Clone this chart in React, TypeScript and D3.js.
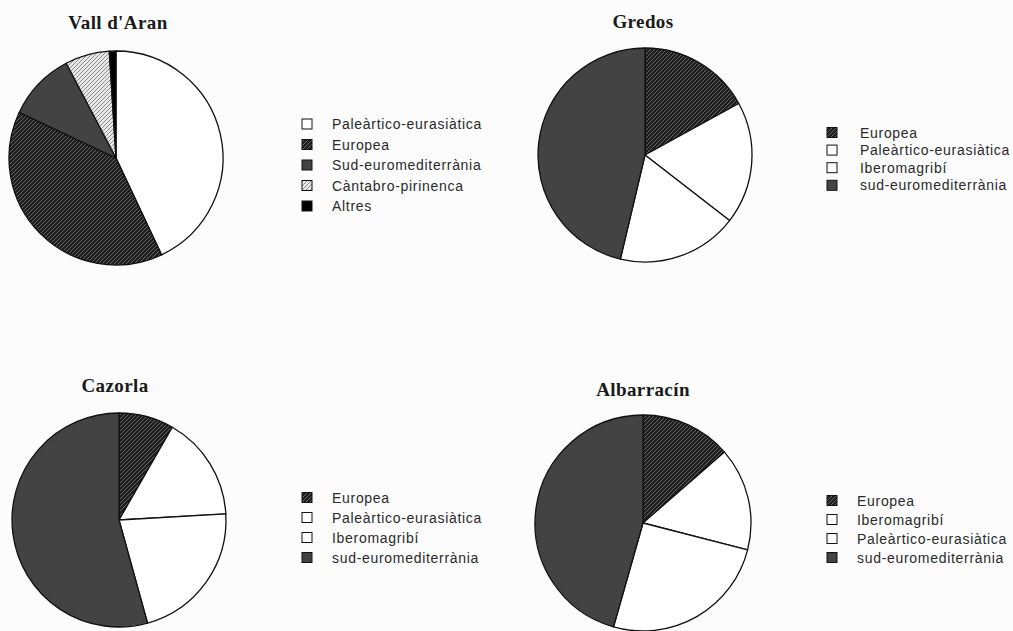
import React from "react";
import * as d3 from "d3";

const W = 1013;
const H = 631;

// Data
const vallCategories = ["Paleàrtico-eurasiàtica", "Europea", "Sud-euromediterrània", "Càntabro-pirinenca", "Altres"];
const vallKeys = ["pal", "eur", "sud", "cant", "alt"];
const vallValues = [43, 39, 10.3, 6.7, 1];

const gredosCategories = ["Europea", "Paleàrtico-eurasiàtica", "Iberomagribí", "sud-euromediterrània"];
const gredosKeys = ["eur", "pal", "ibe", "sud"];
const gredosValues = [17, 18.5, 18.2, 46.3];

const cazorlaCategories = ["Europea", "Paleàrtico-eurasiàtica", "Iberomagribí", "sud-euromediterrània"];
const cazorlaKeys = ["eur", "pal", "ibe", "sud"];
const cazorlaValues = [8.3, 15.8, 21.6, 54.3];

const albarracinCategories = ["Europea", "Iberomagribí", "Paleàrtico-eurasiàtica", "sud-euromediterrània"];
const albarracinKeys = ["eur", "ibe", "pal", "sud"];
const albarracinValues = [13.6, 15.4, 25.4, 45.6];

const fills: Record<string, string> = {
  pal: "#ffffff",
  ibe: "#ffffff",
  eur: "url(#hatchDark)",
  sud: "#434343",
  cant: "url(#hatchLight)",
  alt: "#000000",
};

type PieSpec = {
  title: string;
  categories: string[];
  keys: string[];
  values: number[];
  cx: number;
  cy: number;
  r: number;
  titleX: number;
  titleY: number;
  legendX: number;
  textX: number;
  legendY0: number;
  legendStep: number;
};

const specs: PieSpec[] = [
  { title: "Vall d'Aran", categories: vallCategories, keys: vallKeys, values: vallValues, cx: 116, cy: 158, r: 107, titleX: 118, titleY: 29, legendX: 302, textX: 332, legendY0: 124, legendStep: 20.5 },
  { title: "Gredos", categories: gredosCategories, keys: gredosKeys, values: gredosValues, cx: 645, cy: 155, r: 107, titleX: 643, titleY: 28, legendX: 827, textX: 860, legendY0: 132.5, legendStep: 17.6 },
  { title: "Cazorla", categories: cazorlaCategories, keys: cazorlaKeys, values: cazorlaValues, cx: 119, cy: 520, r: 107, titleX: 115, titleY: 392, legendX: 302, textX: 332, legendY0: 497.5, legendStep: 20 },
  { title: "Albarracín", categories: albarracinCategories, keys: albarracinKeys, values: albarracinValues, cx: 643, cy: 523, r: 108, titleX: 643, titleY: 396, legendX: 827, textX: 857, legendY0: 500.5, legendStep: 19 },
];

function Pie({ s }: { s: PieSpec }) {
  const pie = d3.pie<number>().sort(null).value((d) => d);
  const arcs = pie(s.values);
  const arc = d3.arc<d3.PieArcDatum<number>>().innerRadius(0).outerRadius(s.r);
  return (
    <g>
      <text
        x={s.titleX}
        y={s.titleY}
        textAnchor="middle"
        fontFamily="'Liberation Serif', 'DejaVu Serif', serif"
        fontWeight="bold"
        fontSize={19}
        letterSpacing={0.4}
        fill="#1a1a1a"
      >
        {s.title}
      </text>
      <g transform={`translate(${s.cx},${s.cy})`}>
        {arcs.map((a, i) => (
          <path key={i} d={arc(a) || ""} fill={fills[s.keys[i]]} stroke="#111" strokeWidth={1.3} strokeLinejoin="round" />
        ))}
      </g>
      {s.categories.map((c, i) => {
        const y = s.legendY0 + i * s.legendStep;
        return (
          <g key={c}>
            <rect x={s.legendX} y={y - 5} width={10} height={10} fill={fills[s.keys[i]]} stroke="#111" strokeWidth={1} />
            <text
              x={s.textX}
              y={y + 5}
              fontFamily="'Liberation Sans', Arial, sans-serif"
              fontSize={14}
              letterSpacing={0.7}
              fill="#2a2a2a"
            >
              {c}
            </text>
          </g>
        );
      })}
    </g>
  );
}

export default function App() {
  return (
    <svg width={W} height={H} style={{ position: "absolute", left: 0, top: 0, background: "#fcfcfc" }}>
      <defs>
        <pattern id="hatchDark" patternUnits="userSpaceOnUse" width={4} height={4}>
          <rect width={4} height={4} fill="#1e1e1e" />
          <path d="M-1,1 l2,-2 M0,4 l4,-4 M3,5 l2,-2" stroke="#6e6e6e" strokeWidth={0.9} />
        </pattern>
        <pattern id="hatchLight" patternUnits="userSpaceOnUse" width={4} height={4}>
          <rect width={4} height={4} fill="#e8e8e8" />
          <path d="M-1,1 l2,-2 M0,4 l4,-4 M3,5 l2,-2" stroke="#8c8c8c" strokeWidth={1} />
        </pattern>
      </defs>
      <rect width={W} height={H} fill="#fcfcfc" />
      {specs.map((s) => (
        <Pie key={s.title} s={s} />
      ))}
    </svg>
  );
}
